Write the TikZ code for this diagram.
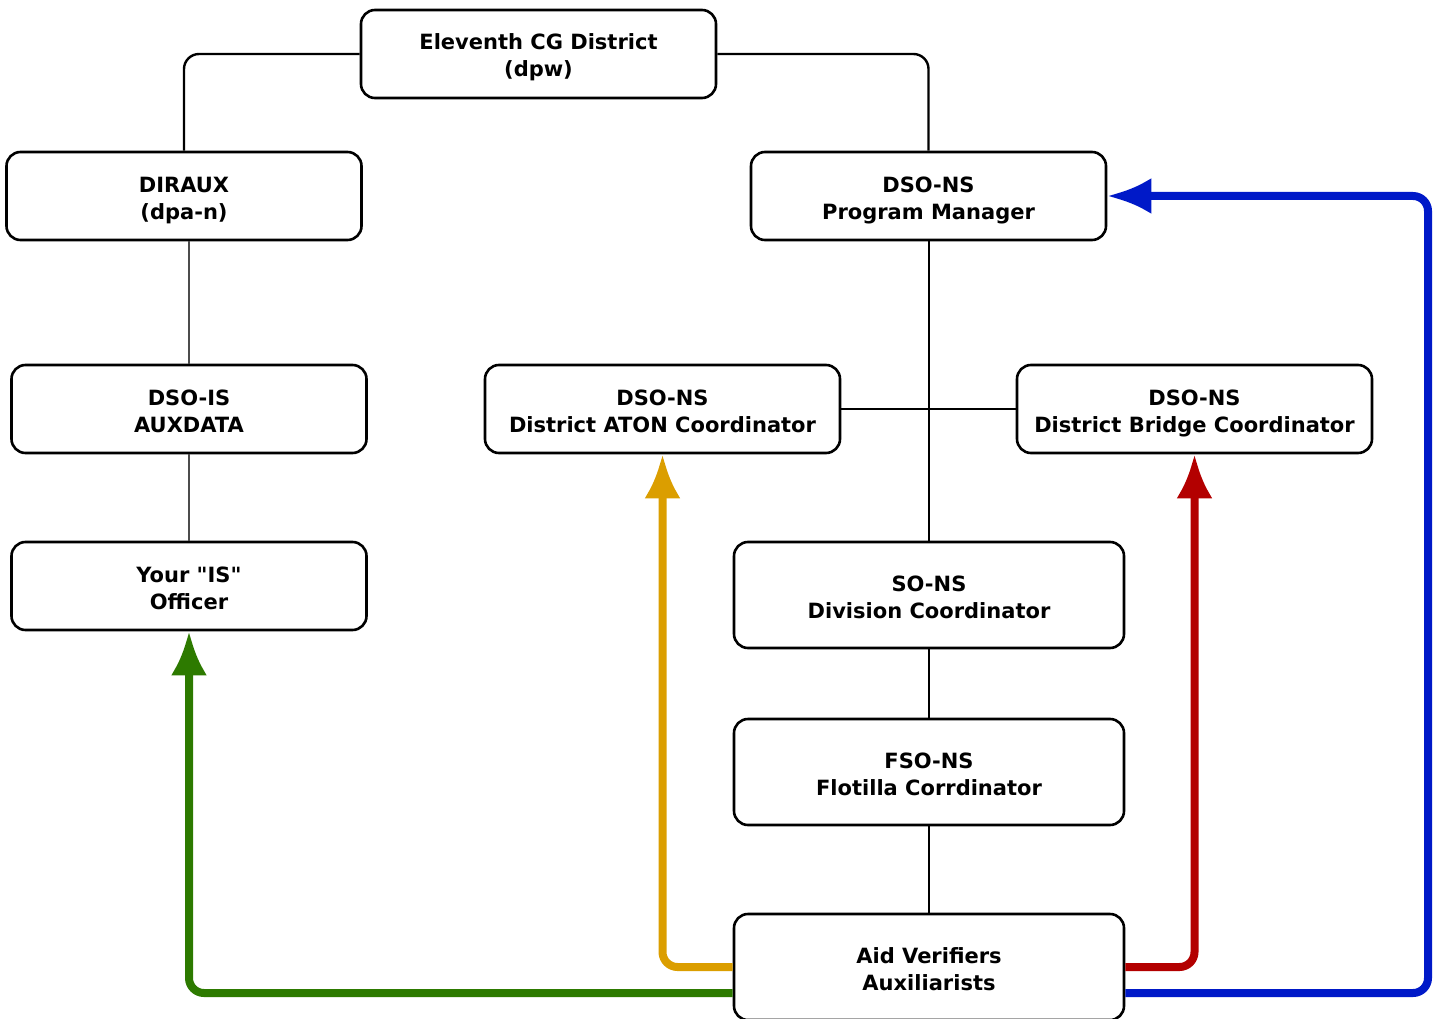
\documentclass[tikz,border=0pt]{standalone}
\usepackage{fontspec}
\setmainfont{DejaVu Sans}[Ligatures=TeXOff]
\usepackage{tikz}
\usetikzlibrary{arrows.meta,calc,positioning}
\definecolor{atonorange}{HTML}{DB9E00}
\definecolor{isgreen}{HTML}{2D7A00}
\definecolor{bridgered}{HTML}{B30000}
\definecolor{pmblue}{HTML}{0019C8}

\begin{document}
\begin{tikzpicture}[x=1pt,y=-1pt,>=Latex,
  unit/.style={draw,line width=2.6pt,rounded corners=14pt,align=center,
    minimum width=355pt,minimum height=88pt,inner sep=0pt,
    text height=51pt,text depth=5pt,
    font=\fontsize{21}{27}\selectfont\bfseries},
  wide/.style={unit,minimum width=390pt,minimum height=106pt},
  link/.style={line width=2.4pt,rounded corners=15pt},
  thin/.style={line width=1.6pt,black!70},
  route/.style={line width=8pt,rounded corners=15pt,
    -{Latex[length=44pt,width=36pt]}}]
  \useasboundingbox (0,0) rectangle (1440,1019);
  % chain of command
  \node[unit] (district) at (538.5,54) {Eleventh CG District\\(dpw)};
  \node[unit] (diraux) at (184,196) {DIRAUX\\(dpa-n)};
  \node[unit] (pm) at (928.5,196) {DSO-NS\\Program Manager};
  \node[unit] (auxdata) at (189,409) {DSO-IS\\AUXDATA};
  \node[unit] (aton) at (662.5,409) {DSO-NS\\District ATON Coordinator};
  \node[unit] (bridge) at (1194.5,409) {DSO-NS\\District Bridge Coordinator};
  \node[unit] (isoff) at (189,586) {Your "IS"\\Officer};
  \node[wide] (div) at (929,595) {SO-NS\\Division Coordinator};
  \node[wide] (flot) at (929,772) {FSO-NS\\Flotilla Corrdinator};
  \node[wide] (aid) at (929,967) {Aid Verifiers\\Auxiliarists};
  \coordinate (rim) at (1428,196);

  \draw[link] (district.west) -| (diraux.north);
  \draw[link] (district.east) -| (pm.north);
  \draw[thin] (diraux.south -| auxdata.north) -- (auxdata.north);
  \draw[thin] (auxdata) -- (isoff);
  \draw[link] (pm.south -| div.north) -- (div.north);
  \draw[link] (aton.east) -- (bridge.west);
  \draw[link] (div) -- (flot);
  \draw[link] (flot) -- (aid);

  % reporting routes
  \draw[route,isgreen] ([yshift=-26pt]aid.west) -| (isoff.south);
  \draw[route,atonorange] (aid.west) -| (aton.south);
  \draw[route,bridgered] (aid.east) -| (bridge.south);
  \draw[route,pmblue] ([yshift=-26pt]aid.east) -| (rim) -- (pm.east);
\end{tikzpicture}
\end{document}
